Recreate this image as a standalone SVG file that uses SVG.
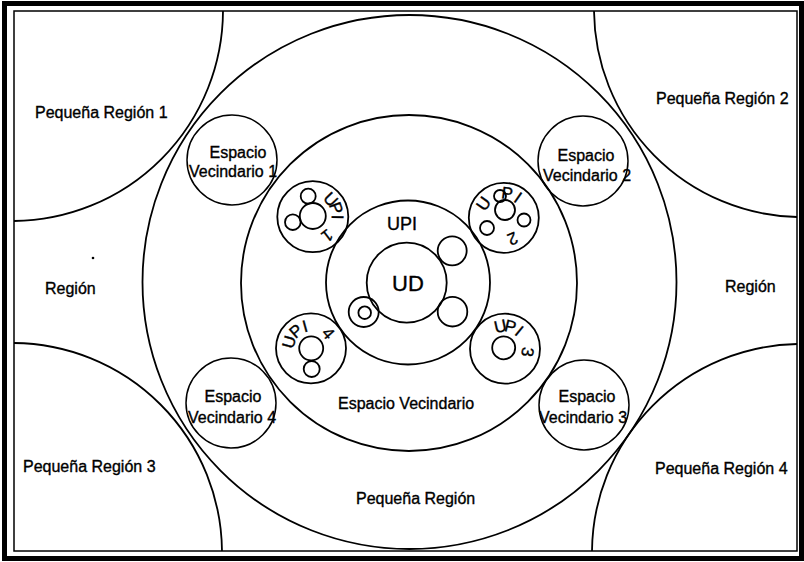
<svg xmlns="http://www.w3.org/2000/svg" width="804" height="562" viewBox="0 0 804 562">
<style>
.ln{fill:none;stroke:#000;stroke-width:1.8}
.th{fill:none;stroke:#000;stroke-width:1.5}
.t{font-family:"Liberation Sans",Arial,Helvetica,sans-serif;font-size:16px;fill:#000;stroke:#000;stroke-width:0.35}
.m{text-anchor:middle}
.s{font-family:"Liberation Sans",Arial,Helvetica,sans-serif;font-size:17px;fill:#000;stroke:#000;stroke-width:0.35;text-anchor:middle}
</style>
<rect width="804" height="562" fill="#fff"/>
<g id="frame">
<rect x="4.5" y="3.5" width="797" height="555" fill="none" stroke="#000" stroke-width="5"/>
<rect x="14" y="11" width="783" height="540" class="th"/>
</g>
<g id="pequena-region-1">
<path class="ln" d="M223,11 A211,211 0 0 1 14,221"/>
<text class="t" x="35" y="118">Pequeña Región 1</text>
</g>
<g id="pequena-region-2">
<path class="ln" d="M594,11 A208,208 0 0 0 797,217"/>
<text class="t" x="656" y="104">Pequeña Región 2</text>
</g>
<g id="pequena-region-3">
<path class="ln" d="M14,343 A210,210 0 0 1 222,551"/>
<text class="t" x="23" y="472">Pequeña Región 3</text>
</g>
<g id="pequena-region-4">
<path class="ln" d="M797,344 A209,209 0 0 0 592,551"/>
<text class="t" x="655" y="474">Pequeña Región 4</text>
</g>
<g id="region">
<text class="t" x="45" y="294">Región</text>
<text class="t" x="725" y="292">Región</text>
<circle cx="93" cy="258" r="1.3" fill="#000"/>
</g>
<g id="pequena-region">
<circle class="ln" cx="409.5" cy="282" r="267"/>
<text class="t" x="356" y="504">Pequeña Región</text>
</g>
<g id="espacio-vecindario">
<circle class="ln" cx="409" cy="283" r="168"/>
<text class="t" x="338" y="409">Espacio Vecindario</text>
</g>
<g id="espacio-vecindario-1">
<circle class="th" cx="232" cy="160" r="45"/>
<text class="t m" x="238" y="158">Espacio</text>
<text class="t m" x="233" y="177">Vecindario 1</text>
</g>
<g id="espacio-vecindario-2">
<circle class="th" cx="583" cy="161" r="45"/>
<text class="t m" x="586" y="161">Espacio</text>
<text class="t m" x="587" y="181">Vecindario 2</text>
</g>
<g id="espacio-vecindario-3">
<circle class="th" cx="584" cy="405" r="45"/>
<text class="t m" x="587" y="402">Espacio</text>
<text class="t m" x="583" y="423">Vecindario 3</text>
</g>
<g id="espacio-vecindario-4">
<circle class="th" cx="231" cy="403" r="45"/>
<text class="t m" x="233" y="402">Espacio</text>
<text class="t m" x="232" y="423">Vecindario 4</text>
</g>
<g id="upi">
<circle class="ln" cx="408" cy="282.5" r="82"/>
<text class="t m" x="402" y="230" style="font-size:18px">UPI</text>
</g>
<g id="ud">
<circle class="ln" cx="406.7" cy="282.7" r="40"/>
<text class="t m" x="408" y="291" style="font-size:22px">UD</text>
<circle class="ln" cx="452.2" cy="250.8" r="14.5"/>
<circle class="ln" cx="452.5" cy="311.7" r="14.8"/>
<circle class="ln" cx="363.7" cy="312" r="15"/>
<circle class="ln" cx="364.7" cy="312.7" r="6.3"/>
</g>
<g id="upi-1">
<circle class="ln" cx="312.8" cy="216.7" r="35.5"/>
<circle class="ln" cx="312.8" cy="216" r="13"/>
<circle class="ln" cx="308.2" cy="196.2" r="7.5"/>
<circle class="ln" cx="292.8" cy="222.2" r="7.8"/>
<text class="s" transform="translate(312.8,216.7) rotate(46) translate(0,-19)">U</text>
<text class="s" transform="translate(312.8,216.7) rotate(70) translate(0,-19)">P</text>
<text class="s" transform="translate(312.8,216.7) rotate(91) translate(0,-19)">I</text>
<text class="s" transform="translate(312.8,216.7) rotate(143) translate(0,-18)">1</text>
</g>
<g id="upi-2">
<circle class="ln" cx="503.8" cy="217.8" r="35"/>
<circle class="ln" cx="505" cy="210" r="10"/>
<circle class="ln" cx="500" cy="196" r="6"/>
<circle class="ln" cx="487" cy="228" r="7"/>
<circle class="ln" cx="524" cy="220" r="6.5"/>
<text class="s" transform="translate(503.8,217.8) rotate(-55) translate(0,-19)">U</text>
<text class="s" transform="translate(503.8,217.8) rotate(8) translate(0,-19)">P</text>
<text class="s" transform="translate(503.8,217.8) rotate(35) translate(0,-19)">I</text>
<text class="s" transform="translate(503.8,217.8) rotate(157) translate(0,-17)">2</text>
</g>
<g id="upi-3">
<circle class="ln" cx="505" cy="348.7" r="35"/>
<circle class="ln" cx="503.7" cy="347.8" r="11.5"/>
<text class="s" transform="translate(505,348.7) rotate(-12) translate(0,-17)">U</text>
<text class="s" transform="translate(505,348.7) rotate(14) translate(0,-17)">P</text>
<text class="s" transform="translate(505,348.7) rotate(39) translate(0,-17)">I</text>
<text class="s" transform="translate(505,348.7) rotate(98) translate(0,-17)">3</text>
</g>
<g id="upi-4">
<circle class="ln" cx="311" cy="348.3" r="35"/>
<circle class="ln" cx="311.2" cy="348.3" r="12"/>
<circle class="ln" cx="311.7" cy="369" r="8"/>
<text class="s" transform="translate(311,348.3) rotate(-74) translate(0,-17)">U</text>
<text class="s" transform="translate(311,348.3) rotate(-41) translate(0,-17)">P</text>
<text class="s" transform="translate(311,348.3) rotate(-15) translate(0,-17)">I</text>
<text class="s" transform="translate(311,348.3) rotate(49) translate(0,-17)">4</text>
</g>
</svg>
